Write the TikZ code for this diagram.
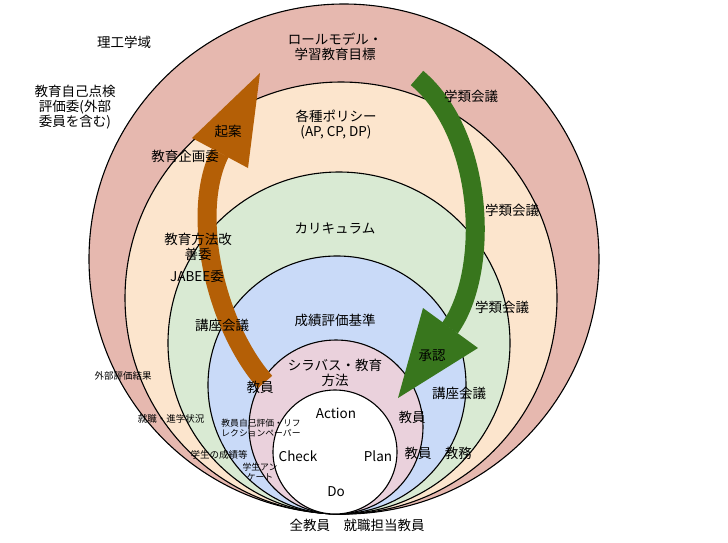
\documentclass[tikz,border=0pt]{standalone}
\usepackage{fontspec}
\setmainfont{Noto Sans CJK JP}
\usetikzlibrary{positioning}

\definecolor{ringA}{HTML}{E6B8AF}
\definecolor{ringB}{HTML}{FCE5CD}
\definecolor{ringC}{HTML}{D9EAD3}
\definecolor{ringD}{HTML}{C9DAF8}
\definecolor{ringE}{HTML}{EAD1DC}
\definecolor{kianc}{HTML}{B45F06}
\definecolor{shoninc}{HTML}{38761D}

\begin{document}
\begin{tikzpicture}[x=1pt, y=-1pt,
    ring/.style = {draw=black, line width=1.1pt},
    txt/.style = {inner sep=0pt, align=center, font=\fontsize{13.5}{15}\selectfont},
    small/.style = {inner sep=0pt, align=center, font=\fontsize{9.5}{10.5}\selectfont},
    shaft/.style = {line width=19pt}]

    \useasboundingbox (0,0) rectangle (728,542);

    % Rings
    \filldraw [ring, fill=ringA] (344,259) circle (255pt);
    \filldraw [ring, fill=ringB] (341,298) circle (216pt);
    \filldraw [ring, fill=ringC] (339,343) circle (171pt);
    \filldraw [ring, fill=ringD] (337,385) circle (129pt);
    \filldraw [ring, fill=ringE] (336,427) circle (87pt);
    \filldraw [ring, fill=white] (335,452) circle (62pt);

    % Arrows
    \coordinate (kian-start) at (265,382);
    \coordinate (kian-base)  at (220,153);
    \coordinate (kian-tip)   at (260,73);
    \coordinate (kian-left)  at (192,138);
    \coordinate (kian-right) at (248,168);
    \draw [shaft, kianc] (kian-start) .. controls (215,325) and (190,213) .. (kian-base);
    \fill [kianc] (kian-left) -- (kian-tip) -- (kian-right) -- cycle;

    \coordinate (shonin-start) at (417,78);
    \coordinate (shonin-base)  at (450,328);
    \coordinate (shonin-tip)   at (398,398);
    \coordinate (shonin-left)  at (423,308);
    \coordinate (shonin-right) at (478,348);
    \draw [shaft, shoninc] (shonin-start) .. controls (485,135) and (490,272) .. (shonin-base);
    \fill [shoninc] (shonin-left) -- (shonin-tip) -- (shonin-right) -- cycle;

    % Labels
    \node [txt] (rikou)    at (124,42)  {理工学域};
    \node [txt] (jiko)     at (75,107)  {教育自己点検\\評価委(外部\\委員を含む)};
    \node [txt] (role)     at (335,47)  {ロールモデル・\\学習教育目標};
    \node [txt] (gakurui1) at (471,96)  {学類会議};
    \node [txt] (policy)   at (336,125) {各種ポリシー\\(AP, CP, DP)};
    \node [txt] (kian)     at (228,131) {起案};
    \node [txt] (kikaku)   at (185,156) {教育企画委};
    \node [txt] (gakurui2) at (512,210) {学類会議};
    \node [txt] (curri)    at (335,228) {カリキュラム};
    \node [txt] (houhou)   at (198,247) {教育方法改\\善委};
    \node [txt] (jabee)    at (197,276) {JABEE委};
    \node [txt] (kouza1)   at (222,325) {講座会議};
    \node [txt] (seiseki)  at (335,320) {成績評価基準};
    \node [txt] (gakurui3) at (502,307) {学類会議};
    \node [txt] (shonin)   at (432,356) {承認};
    \node [txt] (kouza2)   at (459,393) {講座会議};
    \node [txt] (syllabus) at (335,373) {シラバス・教育\\方法};
    \node [txt] (kyoin1)   at (260,387) {教員};
    \node [txt] (kyoin2)   at (412,417) {教員};
    \node [txt] (kyoin3)   at (418,453) {教員};
    \node [txt] (kyomu)    [right=13pt of kyoin3] {教務};

    % PDCA
    \node [txt] (action) at (336,413) {Action};
    \node [txt] (check)  at (298,456) {Check};
    \node [txt] (plan)   at (378,456) {Plan};
    \node [txt] (do)     at (336,492) {Do};
    \node [txt] (zenkyoin) at (357,525) {全教員　就職担当教員};

    % Inputs
    \node [small] (gaibu)    at (123,376) {外部評価結果};
    \node [small] (shinro)   at (171,419) {就職・進学状況};
    \node [small] (gakusei)  at (219,455) {学生の成績等};
    \node [small, font=\fontsize{8.8}{10}\selectfont] (reflect) at (261,428) {教員自己評価・リフ\\レクションペーパー};
    \node [small, font=\fontsize{8.8}{10}\selectfont] (enquete) at (260,472) {学生アン\\ケート};
\end{tikzpicture}
\end{document}
